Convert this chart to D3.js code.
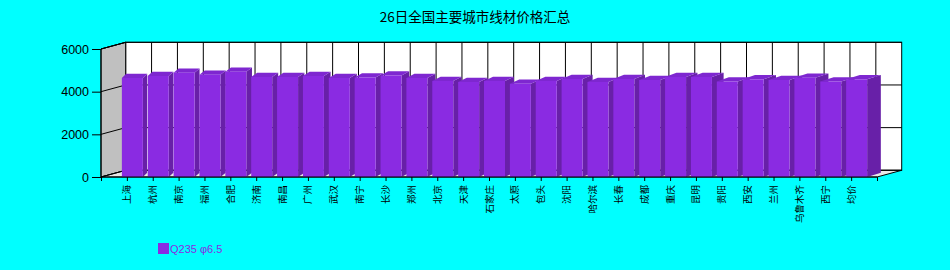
<!DOCTYPE html>
<html>
<head>
<meta charset="utf-8">
<script src="https://cdn.jsdelivr.net/npm/d3@7"></script>
<style>
  html, body { margin: 0; padding: 0; background: #00ffff; }
  svg { display: block; }
</style>
</head>
<body>
<svg id="chart" width="950" height="270"></svg>
<script>
// data
const cities = ["上海","杭州","南京","福州","合肥","济南","南昌","广州","武汉","南宁",
  "长沙","郑州","北京","天津","石家庄","太原","包头","沈阳","哈尔滨","长春",
  "成都","重庆","昆明","贵阳","西安","兰州","乌鲁木齐","西宁","均价"];
const prices = [4640,4734,4890,4795,4936,4690,4690,4734,4640,4665,
  4758,4640,4500,4453,4500,4370,4500,4594,4453,4594,
  4547,4690,4690,4477,4580,4547,4655,4477,4580];
const yTicks = [0,2000,4000,6000];
const seriesName = "Q235 φ6.5";

const svg = d3.select("#chart");

// front plane + depth offset of the walls
const x = d3.scaleLinear().domain([0, 30]).range([101, 877]);
const y = d3.scaleLinear().domain([0, 6000]).range([177, 49]);
const dX = 24.7, dY = -6.7;

const line = pts => "M" + pts.map(p => p.join(",")).join("L") + "Z";

// title
svg.append("text")
  .attr("x", 475).attr("y", 22)
  .attr("text-anchor", "middle")
  .style("font-family", "'Noto Sans CJK SC'")
  .style("font-size", "13.5px")
  .text("26日全国主要城市线材价格汇总");

// back wall
svg.append("rect")
  .attr("x", x(0) + dX).attr("y", y(6000) + dY)
  .attr("width", x(30) - x(0)).attr("height", y(0) - y(6000))
  .attr("fill", "#fff").attr("stroke", "#000");

// left wall
svg.append("path")
  .attr("d", line([[x(0), y(6000)], [x(0) + dX, y(6000) + dY], [x(0) + dX, y(0) + dY], [x(0), y(0)]]))
  .attr("fill", "#c0c0c0").attr("stroke", "#000");

// floor
svg.append("path")
  .attr("d", line([[x(0), y(0)], [x(30), y(0)], [x(30) + dX, y(0) + dY], [x(0) + dX, y(0) + dY]]))
  .attr("fill", "#e8e8e8").attr("stroke", "#000");

// grid: horizontal on back wall + diagonals on left wall
yTicks.forEach(t => {
  svg.append("line")
    .attr("x1", x(0) + dX).attr("x2", x(30) + dX)
    .attr("y1", y(t) + dY).attr("y2", y(t) + dY)
    .attr("stroke", "#000");
  svg.append("line")
    .attr("x1", x(0)).attr("y1", y(t))
    .attr("x2", x(0) + dX).attr("y2", y(t) + dY)
    .attr("stroke", "#000");
});
// vertical grid on back wall
d3.range(1, 30).forEach(k => {
  svg.append("line")
    .attr("x1", x(k) + dX).attr("x2", x(k) + dX)
    .attr("y1", y(6000) + dY).attr("y2", y(0) + dY)
    .attr("stroke", "#000");
});

// bars (3D boxes), drawn left to right
const bw0 = -5, bw1 = 16, bdy = -4.3;
const bars = svg.append("g");
cities.forEach((c, i) => {
  const cx = x(i + 1);
  const dx = 4.3 + (i / 28) * 9.4;
  const xl = cx + bw0, xr = cx + bw1;
  const yt = y(prices[i]), yb = y(0);
  const g = bars.append("g");
  g.append("path")
    .attr("d", line([[xr, yt], [xr + dx, yt + bdy], [xr + dx, yb + bdy], [xr, yb]]))
    .attr("fill", "#6820a8");
  g.append("path")
    .attr("d", line([[xl, yt], [xr, yt], [xr + dx, yt + bdy], [xl + dx, yt + bdy]]))
    .attr("fill", "#7e27d0");
  g.append("rect")
    .attr("x", xl).attr("y", yt)
    .attr("width", xr - xl).attr("height", yb - yt)
    .attr("fill", "#8a2be2");
});

// axes
const yAxis = svg.append("g").attr("transform", "translate(" + x(0) + ",0)")
  .call(d3.axisLeft(y).tickValues(yTicks).tickSize(9).tickPadding(3).tickFormat(d3.format("d")));
yAxis.selectAll("text")
  .style("font-family", "'Liberation Sans', Arial")
  .style("font-size", "12.5px")
  .attr("fill", "#000");
yAxis.select(".domain").attr("d", "M0," + y(6000) + "V" + y(0));

const xAxis = svg.append("g").attr("transform", "translate(0," + y(0) + ")")
  .call(d3.axisBottom(x).tickValues(d3.range(0, 31)).tickSize(4).tickFormat(""));
xAxis.select(".domain").attr("d", "M" + x(0) + ",0H" + x(30));

svg.append("line")
  .attr("x1", x(0)).attr("y1", y(6000))
  .attr("x2", x(0) + dX).attr("y2", y(6000) + dY)
  .attr("stroke", "#000");

// category labels, rotated
svg.append("g").selectAll("text")
  .data(cities).enter()
  .append("text")
  .attr("transform", (d, i) => "translate(" + (x(i + 1) + 3.5) + ",185) rotate(-90)")
  .attr("text-anchor", "end")
  .style("font-family", "'Noto Sans CJK SC'")
  .style("font-size", "9.5px")
  .text(d => d);

// legend
svg.append("rect")
  .attr("x", 158).attr("y", 243).attr("width", 11).attr("height", 11)
  .attr("fill", "#8a2be2");
svg.append("text")
  .attr("x", 170).attr("y", 253)
  .style("font-family", "'Liberation Sans', Arial")
  .style("font-size", "11px")
  .attr("fill", "#8a2be2")
  .text(seriesName);
</script>
</body>
</html>
